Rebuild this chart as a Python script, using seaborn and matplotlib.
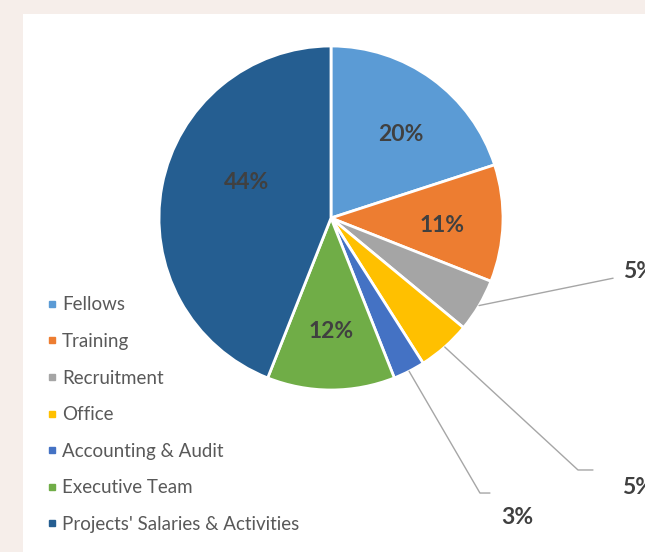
import matplotlib
matplotlib.use("Agg")
import matplotlib.pyplot as plt
from matplotlib.lines import Line2D
from matplotlib.patches import Rectangle
import numpy as np
import seaborn as sns

categories = ["Fellows", "Training", "Recruitment", "Office",
              "Accounting & Audit", "Executive Team",
              "Projects' Salaries & Activities"]
shares = [20, 11, 5, 5, 3, 12, 44]
colors = ["#5B9BD5", "#ED7D31", "#A5A5A5", "#FFC000",
          "#4472C4", "#70AD47", "#255E91"]

sns.set_style("white")
plt.rcParams["font.family"] = ["Lato", "DejaVu Sans"]
palette = sns.color_palette(colors)

W, H = 645, 552
fig = plt.figure(figsize=(W / 100, H / 100), dpi=100)
fig.patch.set_facecolor("#F6EEEA")
fig.add_artist(Rectangle((23 / W, 0), 1 - 23 / W, 1 - 14 / H,
                         transform=fig.transFigure, facecolor="white",
                         edgecolor="none", zorder=0))

# pie centre ~ (331, 218) px, radius ~172 px
cx, cy, r = 331, 218, 172
ax = fig.add_axes([(cx - r) / W, 1 - (cy + r) / H, 2 * r / W, 2 * r / H])
ax.set_facecolor("none")

wedges, _ = ax.pie(shares, colors=palette, startangle=90, counterclock=False,
                   radius=1, wedgeprops=dict(edgecolor="white", linewidth=2))
ax.set_xlim(-1, 1)
ax.set_ylim(-1, 1)
ax.set_axis_off()

lab_kw = dict(fontsize=16.5, fontweight="bold", color="#404040",
              ha="center", va="center")

# inside labels: (distance from centre, angle offset in degrees)
inside = {0: (0.63, -4), 1: (0.65, -2), 5: (0.66, 0), 6: (0.53, -12)}
for i, (d, shift) in inside.items():
    w = wedges[i]
    ang = np.deg2rad((w.theta1 + w.theta2) / 2 + shift)
    ax.text(d * np.cos(ang), d * np.sin(ang), f"{shares[i]}%", **lab_kw)

# outside labels with leader lines: (bend point, end of line, text pos)
outside = {
    2: ((1.64, -0.35), None, (1.70, -0.31)),
    3: ((1.436, -1.465), (1.523, -1.465), (1.69, -1.565)),
    4: ((0.866, -1.599), (0.924, -1.599), (1.085, -1.744)),
}
for i, (bend, end, txt) in outside.items():
    w = wedges[i]
    ang = np.deg2rad((w.theta1 + w.theta2) / 2)
    start = (1.0 * np.cos(ang), 1.0 * np.sin(ang))
    xs = [start[0], bend[0]] + ([end[0]] if end else [])
    ys = [start[1], bend[1]] + ([end[1]] if end else [])
    ax.add_line(Line2D(xs, ys, color="#A6A6A6", linewidth=1, clip_on=False))
    kw = dict(lab_kw)
    if i != 4:
        kw["ha"] = "left"
    ax.text(txt[0], txt[1], f"{shares[i]}%", clip_on=False, **kw)

handles = [Line2D([0], [0], marker="s", linestyle="none", markersize=5,
                  markerfacecolor=c, markeredgecolor=c) for c in palette]
fig.legend(handles, categories, loc="upper left",
           bbox_to_anchor=(34 / W, 1 - 287 / H), frameon=False,
           fontsize=13.5, labelcolor="#595959", handletextpad=0.1,
           labelspacing=1.045, borderpad=0, handlelength=0.9)

fig.savefig("out.png", dpi=100, facecolor=fig.get_facecolor())
